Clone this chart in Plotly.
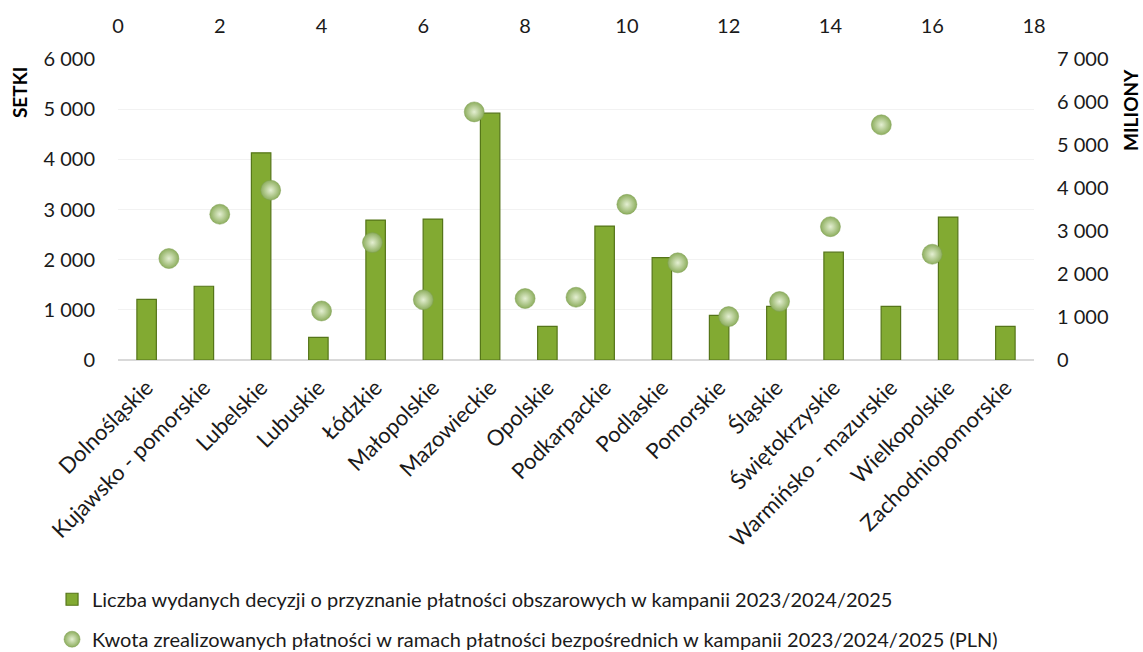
import plotly.graph_objects as go

regions = ["Dolnośląskie", "Kujawsko - pomorskie", "Lubelskie", "Lubuskie", "Łódzkie",
           "Małopolskie", "Mazowieckie", "Opolskie", "Podkarpackie", "Podlaskie",
           "Pomorskie", "Śląskie", "Świętokrzyskie", "Warmińsko - mazurskie",
           "Wielkopolskie", "Zachodniopomorskie"]
decisions = [1210, 1470, 4130, 450, 2790, 2810, 4920, 670, 2670, 2040,
             890, 1070, 2150, 1070, 2850, 670]
payments = [2360, 3390, 3950, 1140, 2730, 1400, 5770, 1430, 1460, 3620,
            2260, 1010, 1360, 3100, 5470, 2460]
scatter_x = [1, 2, 3, 4, 5, 6, 7, 8, 9, 10, 11, 12, 13, 14, 15, 16]

bar_name = "Liczba wydanych decyzji o przyznanie płatności obszarowych w kampanii 2023/2024/2025"
pt_name = "Kwota zrealizowanych płatności w ramach płatności bezpośrednich w kampanii 2023/2024/2025 (PLN)"

FONT = "Lato"
fig = go.Figure()
fig.add_trace(go.Bar(
    x=regions, y=decisions, name=bar_name, width=0.34,
    marker=dict(color="#82AA32", line=dict(color="#557519", width=1.2)),
    xaxis="x", yaxis="y", legendgroup="a"))
fig.add_trace(go.Scatter(
    x=scatter_x, y=payments, name=pt_name, mode="markers",
    marker=dict(size=20, color="#8DAE5E",
                gradient=dict(type="radial", color="#E4EFD2"),
                line=dict(color="#7E9F52", width=0.5)),
    xaxis="x2", yaxis="y2", legendgroup="b"))

tickfont = dict(family=FONT, size=20, color="#1a1a1a")
fig.update_layout(
    width=1143, height=652,
    paper_bgcolor="white", plot_bgcolor="white",
    margin=dict(l=118, r=109, t=59, b=292, autoexpand=False),
    separators=", ",
    font=dict(family=FONT, size=20, color="#1a1a1a"),
    xaxis=dict(type="category", range=[-0.5, 15.5], tickangle=-45,
               tickfont=dict(family=FONT, size=22, color="#1a1a1a"),
               showgrid=False, ticks="outside", ticklen=5, tickcolor="rgba(0,0,0,0)",
               automargin=False, showline=False),
    xaxis2=dict(overlaying="x", side="top", anchor="y", range=[0, 18], dtick=2,
                tickfont=tickfont, showgrid=False, zeroline=False,
                ticks="outside", ticklen=17, tickcolor="rgba(0,0,0,0)", automargin=False),
    yaxis=dict(range=[0, 6000], dtick=1000, tickformat=",d", tickfont=tickfont,
               gridcolor="#F2F2F2", zeroline=True, zerolinecolor="#D9D9D9", zerolinewidth=1.5,
               ticks="outside", ticklen=18, tickcolor="rgba(0,0,0,0)", automargin=False),
    yaxis2=dict(overlaying="y", side="right", anchor="x", range=[0, 7000], dtick=1000,
                tickformat=",d", tickfont=tickfont, showgrid=False, zeroline=False,
                ticks="outside", ticklen=18, tickcolor="rgba(0,0,0,0)", automargin=False),
    legend=dict(x=-0.072, y=-0.73, xanchor="left", yanchor="top", orientation="v",
                traceorder="grouped", tracegroupgap=11,
                font=dict(family=FONT, size=20, color="#1a1a1a"), itemwidth=30),
    showlegend=True,
    annotations=[
        dict(text="<b>SETKI</b>", xref="paper", yref="paper", x=-0.108, y=0.887,
             xanchor="center", yanchor="middle", textangle=-90, showarrow=False,
             font=dict(family=FONT, size=19, color="#000000")),
        dict(text="<b>MILIONY</b>", xref="paper", yref="paper", x=1.106, y=0.831,
             xanchor="center", yanchor="middle", textangle=-90, showarrow=False,
             font=dict(family=FONT, size=19, color="#000000")),
    ],
)
fig.write_html("out.html", config={"displayModeBar": False},
               post_script="document.body.style.margin='0';document.body.style.overflow='hidden';")
